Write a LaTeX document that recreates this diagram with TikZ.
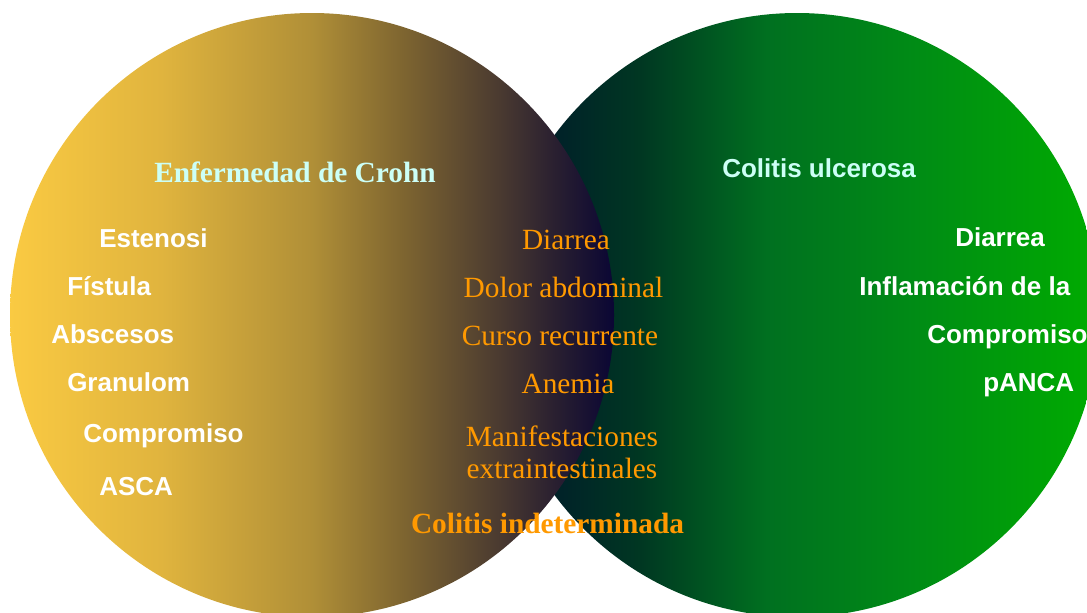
\documentclass[tikz,border=0pt]{standalone}
\usepackage{fontspec}
\setmainfont{Liberation Serif}
\setsansfont{Liberation Sans}
\usepackage{tikz}

% colours of the two discs
\definecolor{crA}{RGB}{250,202,66}
\definecolor{crB}{RGB}{224,180,62}
\definecolor{crC}{RGB}{176,143,55}
\definecolor{crD}{RGB}{126,101,48}
\definecolor{crE}{RGB}{74,58,48}
\definecolor{crF}{RGB}{42,32,48}
\definecolor{crG}{RGB}{10,6,52}
\definecolor{cuA}{RGB}{0,18,45}
\definecolor{cuB}{RGB}{0,55,34}
\definecolor{cuC}{RGB}{0,112,32}
\definecolor{cuD}{RGB}{0,138,22}
\definecolor{cuE}{RGB}{0,172,0}
\definecolor{headcyan}{RGB}{204,255,246}
\definecolor{midorange}{RGB}{255,153,0}

\pgfdeclarehorizontalshading{crohnfill}{100bp}{color(0bp)=(crA); color(25bp)=(crA);
  color(37.5bp)=(crB); color(50bp)=(crC); color(57.5bp)=(crD); color(65.5bp)=(crE);
  color(70bp)=(crF); color(75bp)=(crG); color(100bp)=(crG)}
\pgfdeclarehorizontalshading{cufill}{100bp}{color(0bp)=(cuA); color(25bp)=(cuA);
  color(37bp)=(cuB); color(47.5bp)=(cuC); color(59bp)=(cuD); color(75bp)=(cuE);
  color(100bp)=(cuE)}

\begin{document}
\begin{tikzpicture}[x=0.75pt,y=-0.75pt,
    headser/.style={inner sep=0pt,font=\bfseries\fontsize{22}{26}\selectfont,text=headcyan},
    headsan/.style={inner sep=0pt,font=\sffamily\bfseries\fontsize{19.5}{23}\selectfont,text=headcyan},
    sidetxt/.style={inner sep=0pt,anchor=base west,font=\sffamily\bfseries\fontsize{19.5}{23}\selectfont,text=white},
    midtxt/.style={inner sep=0pt,anchor=base,font=\fontsize{22}{23.5}\selectfont,text=midorange,align=center}]
    \useasboundingbox (0,0) rectangle (1087,612);
    \clip (0,0) rectangle (1087,612);
    % discs
    \path[shading=cufill] (797,315) circle[radius=302];
    \path[shading=crohnfill] (312,315) circle[radius=302];
    % headings
    \node[headser,anchor=base west] (crohn) at (154,182) {Enfermedad de Crohn};
    \node[headsan,anchor=base west] (cu) at (722,177) {Colitis ulcerosa};
    % Crohn side
    \node[sidetxt] (est) at (99,247) {Estenosi};
    \node[sidetxt] (fis) at (67,295) {Fístula};
    \node[sidetxt] (abs) at (51,343) {Abscesos};
    \node[sidetxt] (gra) at (67,391) {Granulom};
    \node[sidetxt] (comp) at (83,442) {Compromiso};
    \node[sidetxt] (asca) at (99,495) {ASCA};
    % shared
    \node[midtxt] (dia) at (566,249) {Diarrea};
    \node[midtxt] (dol) at (563.5,297) {Dolor abdominal};
    \node[midtxt] (cur) at (560,345) {Curso recurrente};
    \node[midtxt] (ane) at (568,393) {Anemia};
    \node[midtxt] (man) at (562,478) {Manifestaciones\\extraintestinales};
    \node[midtxt,font=\bfseries\fontsize{22}{26}\selectfont] (ci) at (547.5,533) {Colitis indeterminada};
    % colitis ulcerosa side
    \node[sidetxt] (dia2) at (955,246) {Diarrea};
    \node[sidetxt] (inf) at (859,295) {Inflamación de la};
    \node[sidetxt] (comp2) at (927,343) {Compromiso};
    \node[sidetxt] (panca) at (983,391) {pANCA};
\end{tikzpicture}
\end{document}
